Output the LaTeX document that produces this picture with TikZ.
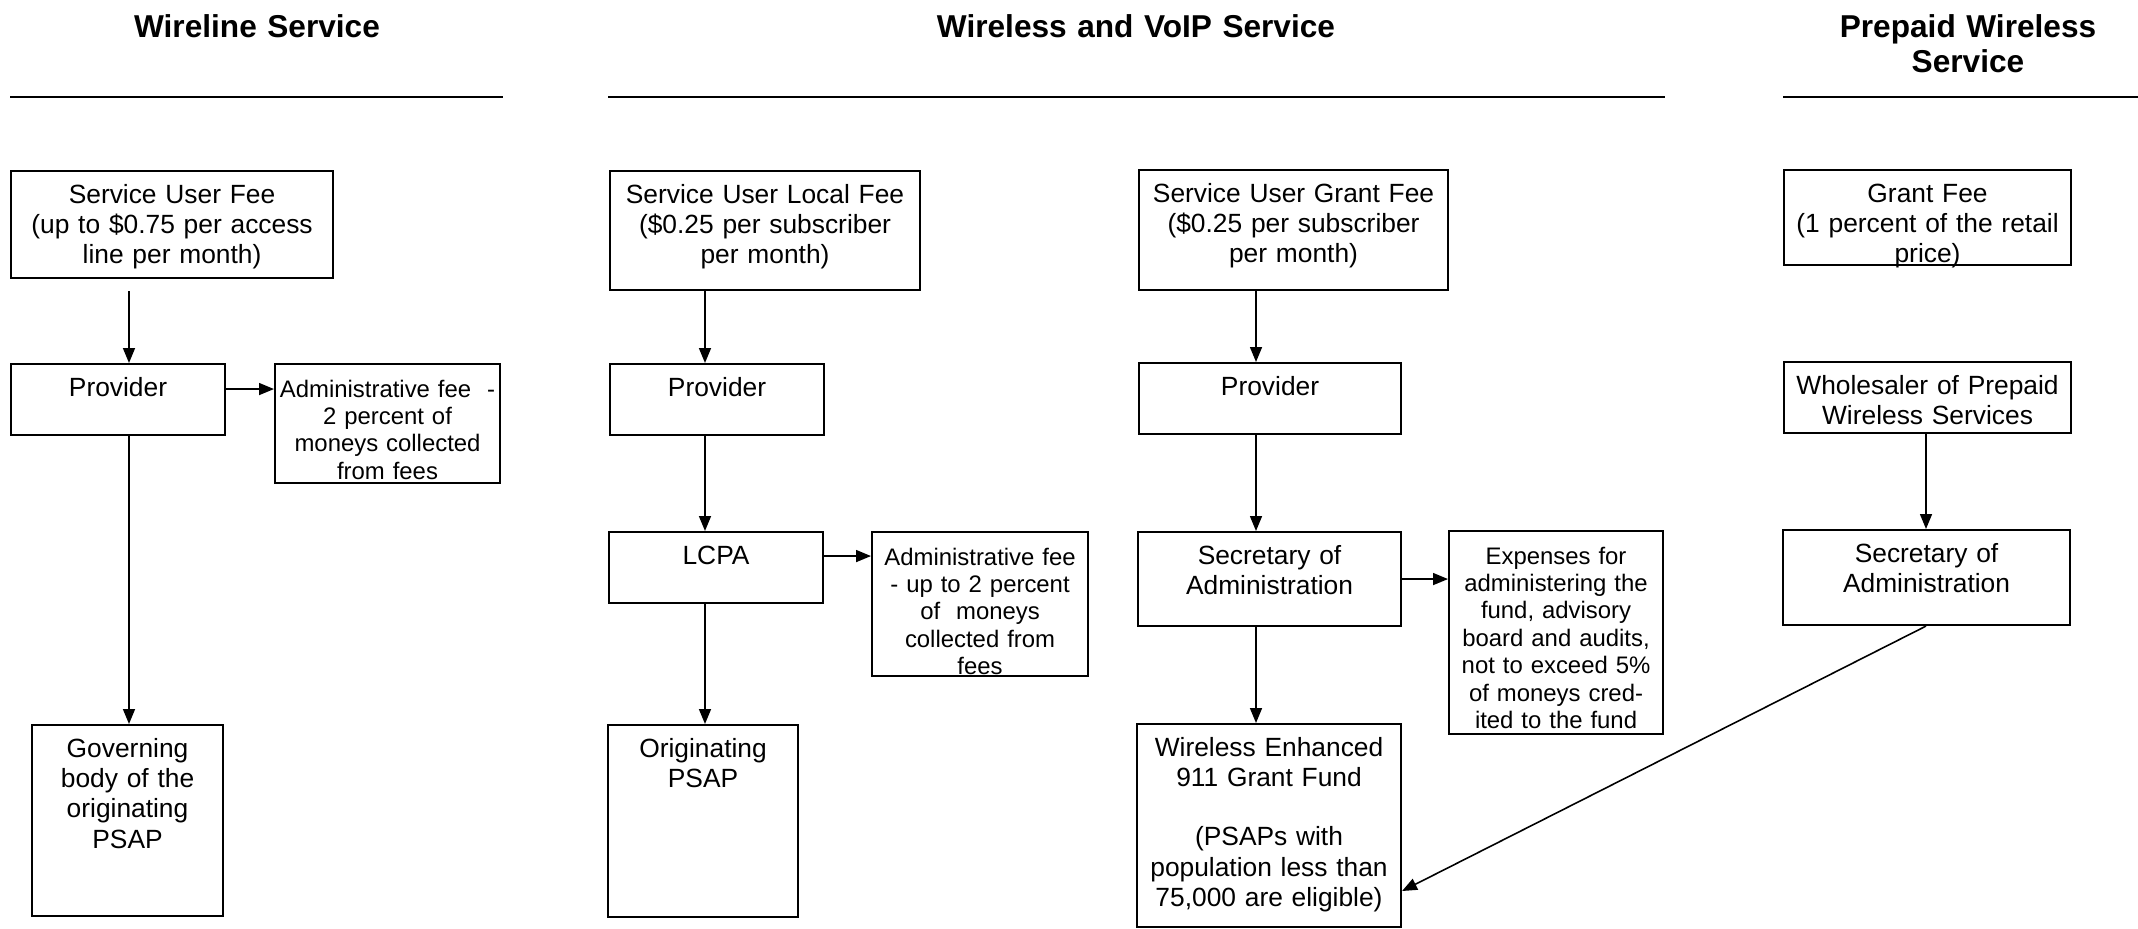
\documentclass[tikz,border=0pt]{standalone}
\usepackage{fontspec}
\setmainfont{Liberation Sans}
\usetikzlibrary{arrows.meta}
\begin{document}
\begin{tikzpicture}[x=0.02cm, y=-0.02cm,
   box/.style={draw, line width=1.2pt, anchor=north west, inner sep=0pt,
      align=center, font=\fontsize{15}{17.3}\selectfont, text height=0.64cm},
   small/.style={font=\fontsize{13.6}{15.6}\selectfont, text height=0.66cm},
   head/.style={anchor=base, align=center, text width=9cm,
      font=\fontsize{18}{19.4}\selectfont\bfseries},
   arr/.style={-{Triangle[length=0.3cm,width=0.24cm]}, line width=0.9pt},
   rule/.style={line width=1.3pt}]
    \useasboundingbox (0,0) rectangle (2138,929);
    \path (257,38) node[head] (hwire) {Wireline Service};
    \path (1136,38) node[head] (hless) {Wireless and VoIP Service};
    \path (1968,38) node[head] (hpre) {Prepaid Wireless\\Service};
    \draw[rule] (10,97) -- (503,97);
    \draw[rule] (608,97) -- (1665,97);
    \draw[rule] (1783,97) -- (2138,97);
    \path (10,170) node[box, text width=6.44cm, text depth=1.50cm] (sufA)
       {Service User Fee\\(up to \$0.75 per access\\line per month)};
    \path (10,363) node[box, text width=4.28cm, text depth=0.78cm] (provA) {Provider};
    \path (274,363) node[box, small, text width=4.50cm, text depth=1.72cm] (admA)
       {Administrative fee~ -\\2 percent of\\moneys collected\\from fees};
    \path (31,724) node[box, text width=3.82cm, text depth=3.18cm] (govA)
       {Governing\\body of the\\originating\\PSAP};
    \path (609,170) node[box, text width=6.20cm, text depth=1.74cm] (sufB)
       {Service User Local Fee\\(\$0.25 per subscriber\\per month)};
    \path (609,363) node[box, text width=4.28cm, text depth=0.78cm] (provB) {Provider};
    \path (608,531) node[box, text width=4.28cm, text depth=0.78cm] (lcpa) {LCPA};
    \path (871,531) node[box, small, text width=4.32cm, text depth=2.22cm] (admB)
       {Administrative fee\\- up to 2 percent\\of~ moneys\\collected from\\fees};
    \path (607,724) node[box, text width=3.80cm, text depth=3.20cm] (orig)
       {Originating\\PSAP};
    \path (1138,169) node[box, text width=6.18cm, text depth=1.76cm] (sufC)
       {Service User Grant Fee\\(\$0.25 per subscriber\\per month)};
    \path (1138,362) node[box, text width=5.24cm, text depth=0.78cm] (provC) {Provider};
    \path (1137,531) node[box, text width=5.26cm, text depth=1.24cm] (secC)
       {Secretary of\\Administration};
    \path (1448,530) node[box, small, text width=4.28cm, text depth=3.40cm] (expC)
       {Expenses for\\administering the\\fund, advisory\\board and audits,\\not to exceed 5\%\\of moneys cred-\\ited to the fund};
    \path (1136,723) node[box, text width=5.28cm, text depth=3.42cm] (fund)
       {Wireless Enhanced\\911 Grant Fund\\[0.58cm](PSAPs with\\population less than\\75,000 are eligible)};
    \path (1783,169) node[box, text width=5.74cm, text depth=1.26cm] (grantD)
       {Grant Fee\\(1 percent of the retail\\price)};
    \path (1783,361) node[box, text width=5.74cm, text depth=0.78cm] (wholeD)
       {Wholesaler of Prepaid\\Wireless Services};
    \path (1782,529) node[box, text width=5.74cm, text depth=1.26cm] (secD)
       {Secretary of\\Administration};
    \coordinate (colA) at (129,0);
    \coordinate (colB) at (705,0);
    \coordinate (colC) at (1256,0);
    \coordinate (colD) at (1926,0);
    \draw[arr, shorten <=0.24cm] (sufA.south -| colA) -- (provA.north -| colA);
    \draw[arr] (provA.south -| colA) -- (govA.north -| colA);
    \draw[arr] ([yshift=0.21cm]provA.east) -- ([yshift=0.21cm]provA.east -| admA.west);
    \draw[arr] (sufB.south -| colB) -- (provB.north -| colB);
    \draw[arr] (provB.south -| colB) -- (lcpa.north -| colB);
    \draw[arr] (lcpa.south -| colB) -- (orig.north -| colB);
    \draw[arr] ([yshift=0.23cm]lcpa.east) -- ([yshift=0.23cm]lcpa.east -| admB.west);
    \draw[arr] (sufC.south -| colC) -- (provC.north -| colC);
    \draw[arr] (provC.south -| colC) -- (secC.north -| colC);
    \draw[arr] (secC.south -| colC) -- (fund.north -| colC);
    \draw[arr] (secC.east) -- (secC.east -| expC.west);
    \draw[arr] (wholeD.south -| colD) -- (secD.north -| colD);
    \draw[arr] (secD.south -| colD) -- ([yshift=-1.31cm]fund.east);
\end{tikzpicture}
\end{document}
